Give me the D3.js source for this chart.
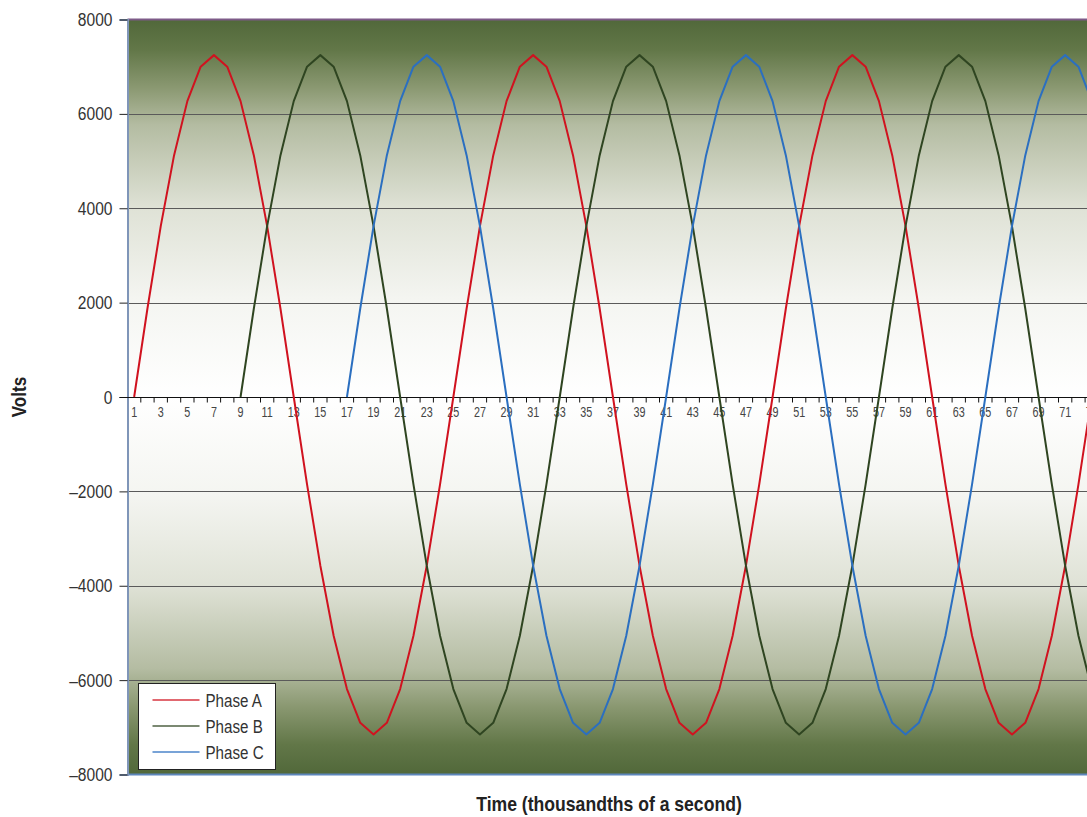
<!DOCTYPE html>
<html>
<head>
<meta charset="utf-8">
<script src="https://cdn.jsdelivr.net/npm/d3@7"></script>
<style>
    body { margin: 0; background: #fff; }
    svg { display: block; font-family: 'Liberation Sans', Arial, sans-serif; }
</style>
</head>
<body>
<div id="chart"></div>
<script>
// time steps (thousandths of a second)
const categories = d3.range(1, 76);

const phaseA = [
    0, 1875, 3620, 5120, 6270, 7000, 7245, 7000, 6270, 5120, 3620, 1875,
    0, -1850, -3575, -5060, -6190, -6905, -7150, -6905, -6190, -5060, -3575, -1850,
    0, 1875, 3620, 5120, 6270, 7000, 7245, 7000, 6270, 5120, 3620, 1875,
    0, -1850, -3575, -5060, -6190, -6905, -7150, -6905, -6190, -5060, -3575, -1850,
    0, 1875, 3620, 5120, 6270, 7000, 7245, 7000, 6270, 5120, 3620, 1875,
    0, -1850, -3575, -5060, -6190, -6905, -7150, -6905, -6190, -5060, -3575, -1850,
    0, 1875, 3620,
];

const phaseB = [
    null, null, null, null, null, null, null, null,
    0, 1875, 3620, 5120, 6270, 7000, 7245, 7000, 6270, 5120, 3620, 1875,
    0, -1850, -3575, -5060, -6190, -6905, -7150, -6905, -6190, -5060, -3575, -1850,
    0, 1875, 3620, 5120, 6270, 7000, 7245, 7000, 6270, 5120, 3620, 1875,
    0, -1850, -3575, -5060, -6190, -6905, -7150, -6905, -6190, -5060, -3575, -1850,
    0, 1875, 3620, 5120, 6270, 7000, 7245, 7000, 6270, 5120, 3620, 1875,
    0, -1850, -3575, -5060, -6190, -6905, -7150,
];

const phaseC = [
    null, null, null, null, null, null, null, null,
    null, null, null, null, null, null, null, null,
    0, 1875, 3620, 5120, 6270, 7000, 7245, 7000, 6270, 5120, 3620, 1875,
    0, -1850, -3575, -5060, -6190, -6905, -7150, -6905, -6190, -5060, -3575, -1850,
    0, 1875, 3620, 5120, 6270, 7000, 7245, 7000, 6270, 5120, 3620, 1875,
    0, -1850, -3575, -5060, -6190, -6905, -7150, -6905, -6190, -5060, -3575, -1850,
    0, 1875, 3620, 5120, 6270, 7000, 7245, 7000, 6270, 5120, 3620,
];

const yTicks = [-8000, -6000, -4000, -2000, 0, 2000, 4000, 6000, 8000];

const series = [
    { name: 'Phase A', values: phaseA, color: '#d0121f' },
    { name: 'Phase B', values: phaseB, color: '#2f4521' },
    { name: 'Phase C', values: phaseC, color: '#2b6fc0' },
];

const width = 1087;
const height = 817;
const margin = { top: 19.5, left: 127.5, bottom: 42.5 };
const step = 13.3;

// no narrow font installed, so squeeze text horizontally
const condense = (sel, k) => {
    sel.each(function () {
        const t = d3.select(this);
        const x0 = +t.attr('x') || 0;
        const tr = t.attr('transform') || '';
        t.attr('x', x0 / k).attr('transform', `${tr} scale(${k},1)`);
    });
};

const svg = d3
    .select('#chart')
    .append('svg')
    .attr('width', width)
    .attr('height', height);

const x = d3
    .scaleBand()
    .domain(categories)
    .range([margin.left, margin.left + step * categories.length]);

const y = d3
    .scaleLinear()
    .domain([-8000, 8000])
    .range([height - margin.bottom, margin.top]);

const plotRight = x.range()[1];

// background gradient, dark at top and bottom, white in the middle
const grad = svg
    .append('defs')
    .append('linearGradient')
    .attr('id', 'bg')
    .attr('x1', 0)
    .attr('y1', 0)
    .attr('x2', 0)
    .attr('y2', 1);
[
    [0, '#51683a'],
    [0.04, '#627748'],
    [0.09, '#8a9871'],
    [0.14, '#b4bca2'],
    [0.25, '#dfe2d6'],
    [0.37, '#f4f5f1'],
    [0.5, '#ffffff'],
    [0.63, '#f4f5f1'],
    [0.75, '#dfe2d6'],
    [0.86, '#b4bca2'],
    [0.91, '#8a9871'],
    [0.96, '#627748'],
    [1, '#51683a'],
].forEach(([o, c]) => {
    grad.append('stop').attr('offset', o).attr('stop-color', c);
});

svg.append('rect')
    .attr('x', margin.left)
    .attr('y', y(8000))
    .attr('width', plotRight - margin.left)
    .attr('height', y(-8000) - y(8000))
    .attr('fill', 'url(#bg)');

// gridlines
svg.append('g')
    .selectAll('line')
    .data(yTicks.filter((d) => d !== 0 && Math.abs(d) !== 8000))
    .enter()
    .append('line')
    .attr('x1', margin.left)
    .attr('x2', plotRight)
    .attr('y1', (d) => Math.round(y(d)) + 0.5)
    .attr('y2', (d) => Math.round(y(d)) + 0.5)
    .attr('stroke', '#5a5a5a')
    .attr('stroke-width', 1);

// plot borders
svg.append('line')
    .attr('x1', margin.left)
    .attr('x2', plotRight)
    .attr('y1', y(8000))
    .attr('y2', y(8000))
    .attr('stroke', '#7d5a88')
    .attr('stroke-width', 2);
svg.append('line')
    .attr('x1', margin.left)
    .attr('x2', plotRight)
    .attr('y1', y(-8000))
    .attr('y2', y(-8000))
    .attr('stroke', '#5d86bb')
    .attr('stroke-width', 2);

// y axis
const yAxis = svg
    .append('g')
    .attr('transform', `translate(${margin.left},0)`)
    .call(
        d3.axisLeft(y)
            .tickValues(yTicks)
            .tickSize(8)
            .tickPadding(7)
            .tickFormat((d) => (d < 0 ? '\u2013' + Math.abs(d) : d)),
    );
yAxis.select('.domain').attr('stroke', '#7f95b8').attr('stroke-width', 2);
yAxis.selectAll('.tick line').attr('stroke', '#222');
yAxis.attr('font-family', null).attr('font-size', null);
yAxis.selectAll('.tick text')
    .attr('font-size', 19)
    .attr('fill', '#333')
    .call(condense, 0.82);

// category axis at zero
const xAxis = svg
    .append('g')
    .attr('transform', `translate(0,${Math.round(y(0)) + 0.5})`);
xAxis.append('line')
    .attr('x1', margin.left - 8)
    .attr('x2', plotRight)
    .attr('stroke', '#111');
xAxis.selectAll('.tick')
    .data(categories)
    .enter()
    .append('line')
    .attr('x1', (d) => x(d) + x.bandwidth())
    .attr('x2', (d) => x(d) + x.bandwidth())
    .attr('y1', 0)
    .attr('y2', 5)
    .attr('stroke', '#111');
xAxis.selectAll('.lbl')
    .data(categories.filter((d) => d % 2 === 1))
    .enter()
    .append('text')
    .attr('x', (d) => x(d) + x.bandwidth() / 2)
    .attr('y', 19.5)
    .attr('text-anchor', 'middle')
    .attr('font-size', 15)
    .attr('fill', '#444')
    .text((d) => d)
    .call(condense, 0.72);

// lines
const line = d3
    .line()
    .defined((d) => d.v !== null)
    .x((d) => x(d.c) + x.bandwidth() / 2)
    .y((d) => y(d.v));

svg.append('g')
    .selectAll('path')
    .data(series)
    .enter()
    .append('path')
    .attr('d', (s) => line(s.values.map((v, i) => ({ c: categories[i], v }))))
    .attr('fill', 'none')
    .attr('stroke', (s) => s.color)
    .attr('stroke-width', 2)
    .attr('stroke-linejoin', 'round');

// legend
const legend = svg.append('g').attr('transform', 'translate(138.5,683.5)');
legend.append('rect')
    .attr('width', 137)
    .attr('height', 86)
    .attr('fill', '#fff')
    .attr('stroke', '#222');
const item = legend
    .selectAll('.item')
    .data(series)
    .enter()
    .append('g')
    .attr('transform', (d, i) => `translate(0,${16.5 + i * 26})`);
item.append('line')
    .attr('x1', 14)
    .attr('x2', 61)
    .attr('stroke', (d) => d.color)
    .attr('stroke-opacity', 0.85)
    .attr('stroke-width', 1.6);
item.append('text')
    .attr('x', 67)
    .attr('dy', '0.36em')
    .attr('font-size', 18.5)
    .attr('fill', '#333')
    .text((d) => d.name)
    .call(condense, 0.82);

// axis titles
svg.append('text')
    .attr('transform', `translate(26,${y(0)}) rotate(-90)`)
    .attr('text-anchor', 'middle')
    .attr('font-size', 20)
    .attr('font-weight', 700)
    .attr('fill', '#222')
    .text('Volts')
    .call(condense, 0.86);

svg.append('text')
    .attr('x', 609)
    .attr('y', 811)
    .attr('text-anchor', 'middle')
    .attr('font-size', 20)
    .attr('font-weight', 700)
    .attr('fill', '#222')
    .text('Time (thousandths of a second)')
    .call(condense, 0.88);
</script>
</body>
</html>
